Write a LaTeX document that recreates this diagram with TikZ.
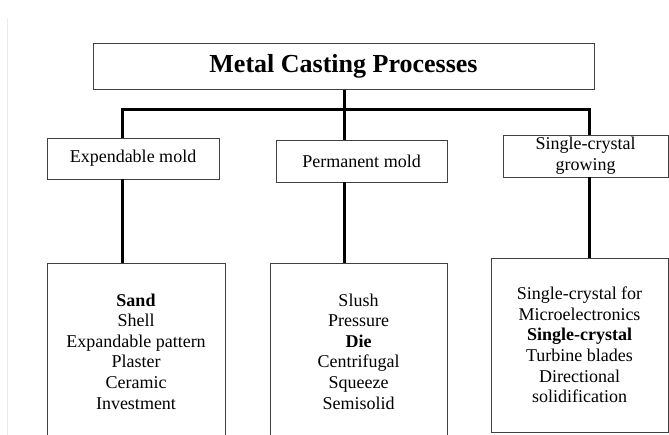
\documentclass[tikz,border=0pt]{standalone}
\usepackage{fontspec}
\setmainfont{Liberation Serif}
\begin{document}
\begin{tikzpicture}[x=1pt,y=-1pt,
        box/.style={draw=black!75, line width=0.8pt, align=center, inner sep=0pt, font=\fontsize{18}{20.6}\selectfont},
        link/.style={black, line width=3pt}]
    \useasboundingbox (0,0) rectangle (669,435);
    \clip (0,0) rectangle (669,435);
    \draw[black!8, line width=0.8pt] (7,18) -- (7,435);
    \node[box, minimum width=501pt, minimum height=46pt, font=\bfseries\fontsize{26}{30}\selectfont] (title) at (343.5,66.5) {Metal Casting Processes};
    \node[box, minimum width=172pt, minimum height=41pt] (expend) at (133,158.5) {Expendable mold};
    \node[box, minimum width=171pt, minimum height=42pt] (perm) at (361.5,161) {Permanent mold};
    \node[box, minimum width=165pt, minimum height=42pt] (grow) at (585.5,156) {Single-crystal\\growing};
    \node[box, minimum width=178pt, minimum height=177pt] (expendlist) at (136,351.5) {\textbf{Sand}\\Shell\\Expandable pattern\\Plaster\\Ceramic\\Investment};
    \node[box, minimum width=177pt, minimum height=177pt] (permlist) at (358.5,351.5) {Slush\\Pressure\\\textbf{Die}\\Centrifugal\\Squeeze\\Semisolid};
    \node[box, minimum width=177pt, minimum height=174pt] (growlist) at (579.5,345) {\raisebox{-2pt}{\parbox{170pt}{\centering Single-crystal for\\Microelectronics\\\textbf{Single-crystal}\\Turbine blades\\Directional\\solidification}}};
    \coordinate (bus) at (344,110);
    \coordinate (busL) at (122,110);
    \coordinate (busR) at (589,110);
    \draw[link] (title.south -| bus) -- (bus);
    \draw[link] ([xshift=-1.5pt]busL) -- ([xshift=1.5pt]busR);
    \draw[link] (busL) -- (busL |- expend.north);
    \draw[link] (bus) -- (bus |- perm.north);
    \draw[link] (busR) -- (busR |- grow.north);
    \draw[link] (busL |- expend.south) -- (busL |- expendlist.north);
    \draw[link] (bus |- perm.south) -- (bus |- permlist.north);
    \draw[link] (busR |- grow.south) -- (busR |- growlist.north);
\end{tikzpicture}
\end{document}
